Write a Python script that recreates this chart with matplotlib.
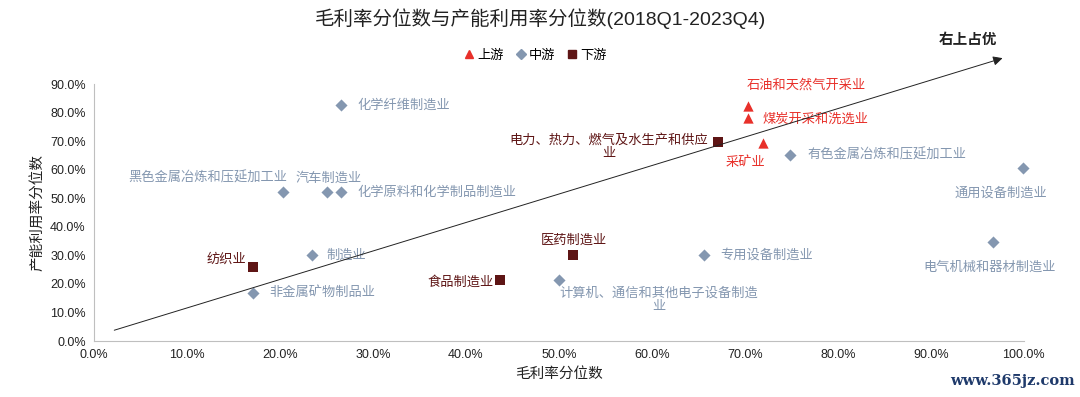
import matplotlib
matplotlib.use('Agg')
import matplotlib.pyplot as plt
from matplotlib.lines import Line2D
from matplotlib.ticker import PercentFormatter

plt.rcParams['font.family'] = ['Liberation Sans', 'Noto Sans CJK SC', 'DejaVu Sans']

# industry, gross margin pct, capacity utilisation pct, segment
names = ['化学纤维制造业', '黑色金属冶炼和压延加工业', '汽车制造业', '化学原料和化学制品制造业',
         '制造业', '纺织业', '非金属矿物制品业', '食品制造业', '医药制造业',
         '计算机、通信和其他电子设备制造\n业', '专用设备制造业', '电气机械和器材制造业',
         '通用设备制造业', '有色金属冶炼和压延加工业', '电力、热力、燃气及水生产和供应\n业',
         '采矿业', '煤炭开采和洗选业', '石油和天然气开采业']
margin = [26.6, 20.3, 25.1, 26.6, 23.4, 17.1, 17.1, 43.7, 51.5,
          50.0, 65.6, 96.7, 99.9, 74.9, 67.1, 71.9, 70.3, 70.3]
util = [82.6, 52.2, 52.2, 52.2, 30.1, 25.9, 16.8, 21.4, 30.1,
        21.4, 30.1, 34.7, 60.6, 65.1, 69.7, 69.3, 78.1, 82.3]
segment = ['中游', '中游', '中游', '中游', '中游', '下游', '中游', '下游', '下游',
           '中游', '中游', '中游', '中游', '中游', '下游', '上游', '上游', '上游']

# label placement (pixel offsets from point, alignment)
label_pos = [(16, 0, 'left'), (-75, 14, 'center'), (1, 14, 'center'), (16, 0, 'left'),
             (15, 0, 'left'), (-7, 8, 'right'), (16, 0, 'left'), (-7, -2, 'right'),
             (1, 15, 'center'), (100, -20, 'center'), (16, 0, 'left'), (-4, -26, 'center'),
             (-22, -25, 'center'), (17, 0, 'left'), (-10, -5, 'right'), (-17, -19, 'center'),
             (15, -1, 'left'), (59, 21, 'center')]

styles = {
    '上游': dict(marker='^', color='#E8302A', s=55),
    '中游': dict(marker='D', color='#8497B0', s=38),
    '下游': dict(marker='s', color='#5E1515', s=55),
}
label_colors = {'上游': '#E8302A', '中游': '#8497B0', '下游': '#5E1515'}

fig = plt.figure(figsize=(10.8, 3.97), dpi=100)
ax = fig.add_axes([0.087, 0.141, 0.861, 0.647])

for seg in ['上游', '中游', '下游']:
    xs = [m for m, g in zip(margin, segment) if g == seg]
    ys = [u for u, g in zip(util, segment) if g == seg]
    st = styles[seg]
    ax.scatter(xs, ys, marker=st['marker'], color=st['color'], s=st['s'],
               linewidths=0, zorder=3, clip_on=False)

for name, x, y, seg, (dx, dy, ha) in zip(names, margin, util, segment, label_pos):
    ax.annotate(name, (x, y), xytext=(dx, dy), textcoords='offset pixels',
                ha=ha, va='center', multialignment='center', fontsize=9.5,
                color=label_colors[seg], linespacing=1.2, annotation_clip=False)

# trend arrow
ax.annotate('', xy=(98.0, 99.4), xytext=(1.9, 3.5),
            arrowprops=dict(arrowstyle='-|>', lw=0.7, color='#222222', mutation_scale=14),
            annotation_clip=False)
fig.text(0.896, 0.899, '右上占优', ha='center', va='center', fontsize=10.5,
         fontweight='bold', color='#222222')

ax.set_xlim(0, 100)
ax.set_ylim(0, 90)
ax.set_xticks(range(0, 101, 10))
ax.set_yticks(range(0, 91, 10))
ax.xaxis.set_major_formatter(PercentFormatter(decimals=1))
ax.yaxis.set_major_formatter(PercentFormatter(decimals=1))
ax.tick_params(length=0, labelsize=9, colors='#222222', pad=6)
for side in ['top', 'right']:
    ax.spines[side].set_visible(False)
for side in ['left', 'bottom']:
    ax.spines[side].set_color('#BFBFBF')
    ax.spines[side].set_linewidth(0.8)

ax.set_xlabel('毛利率分位数', fontsize=10.5, color='#222222', labelpad=4)
ax.set_ylabel('产能利用率分位数', fontsize=10.5, color='#222222', labelpad=4)

fig.suptitle('毛利率分位数与产能利用率分位数(2018Q1-2023Q4)', fontsize=14,
             color='#222222', y=0.953, va='center')

handles = [Line2D([], [], ls='', marker=styles[g]['marker'], color=styles[g]['color'],
                  markersize=5 if g == '中游' else 6, label=g) for g in ['上游', '中游', '下游']]
fig.legend(handles=handles, loc='center', bbox_to_anchor=(0.495, 0.859), ncol=3,
           frameon=False, fontsize=9.5, handletextpad=0.1, columnspacing=0.8,
           handlelength=1.0, borderpad=0)

fig.text(0.995, 0.04, 'www.365jz.com', ha='right', va='center', fontsize=10.5,
         color='#1F3A6B', family='DejaVu Serif', fontweight='bold')

fig.savefig('out.png', dpi=100)
